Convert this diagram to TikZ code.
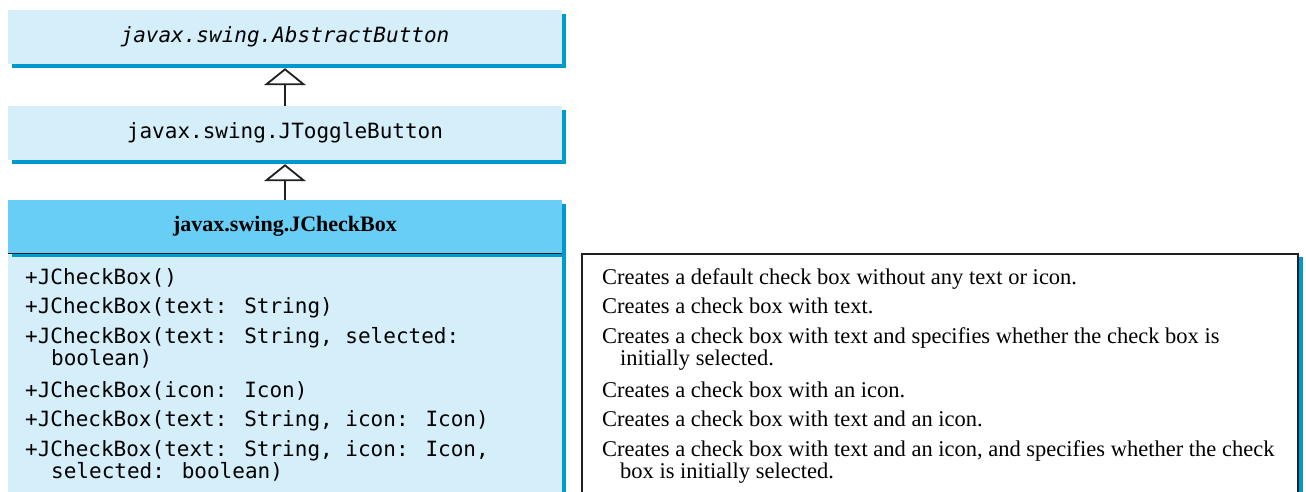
\documentclass[tikz,border=0pt]{standalone}
\usepackage{fontspec}
\setmainfont{Liberation Serif}
\newfontfamily\codefont{DejaVu Sans Mono}
\usetikzlibrary{arrows.meta,shadows}
\definecolor{boxfill}{RGB}{212,238,250}
\definecolor{headfill}{RGB}{104,206,245}
\definecolor{shadowcol}{RGB}{0,153,204}
\definecolor{rulecol}{RGB}{35,31,32}

\begin{document}
\begin{tikzpicture}[x=1pt, y=-1pt,
  classbox/.style={fill=boxfill, minimum width=554pt, minimum height=54pt,
                   inner sep=0pt, font=\codefont\fontsize{21}{25}\selectfont,
                   drop shadow={shadow xshift=4pt, shadow yshift=-4pt,
                                fill=shadowcol, opacity=1}},
  headbox/.style={classbox, fill=headfill, minimum height=53pt,
                  font=\bfseries\fontsize{22}{26}\selectfont},
  bodybox/.style={classbox, minimum height=242pt, anchor=north},
  inherit/.style={draw=rulecol, line width=1.8pt,
                  -{Triangle[open, length=17pt, width=42pt]}},
  meth/.style={anchor=base west, inner sep=0pt,
               font=\codefont\fontsize{21}{25}\selectfont},
  desc/.style={anchor=base west, inner sep=0pt,
               font=\fontsize{22.5}{26}\selectfont},
]
\useasboundingbox (0,0) rectangle (1306,491);

% ---- Class boxes ----
\node[classbox] (abstract) at (285,37)  {\itshape javax.swing.AbstractButton};
\node[classbox] (toggle)   at (285,133) {javax.swing.JToggleButton};
\node[bodybox]  (cbbody)   at (285,253) {};
\node[headbox]  (checkbox) at (285,226.5) {javax.swing.JCheckBox};
\draw[rulecol, line width=1.3pt] (checkbox.south west) -- (checkbox.south east);

% ---- Inheritance arrows ----
\draw[inherit] (toggle.north) -- ([yshift=-4pt]abstract.south);
\draw[inherit] (checkbox.north) -- ([yshift=-4pt]toggle.south);

% ---- Description box ----
\fill[shadowcol] (1298,257) rectangle (1303,495);
\draw[rulecol, line width=1.2pt, fill=white] (582,254) rectangle (1298,495);

% ---- Constructors ----
\node[meth] (m1)  at (25,284) {+JCheckBox()};
\node[meth] (m2)  at (25,313) {+JCheckBox(text: String)};
\node[meth] (m3)  at (25,343) {+JCheckBox(text: String, selected:};
\node[meth] (m3b) at (51,365) {boolean)};
\node[meth] (m4)  at (25,397) {+JCheckBox(icon: Icon)};
\node[meth] (m5)  at (25,426) {+JCheckBox(text: String, icon: Icon)};
\node[meth] (m6)  at (25,456) {+JCheckBox(text: String, icon: Icon,};
\node[meth] (m6b) at (51,478) {selected: boolean)};

% ---- Descriptions ----
\node[desc] (d1)  at (602,284) {Creates a default check box without any text or icon.};
\node[desc] (d2)  at (602,313) {Creates a check box with text.};
\node[desc] (d3)  at (602,343) {Creates a check box with text and specifies whether the check box is};
\node[desc] (d3b) at (620,365) {initially selected.};
\node[desc] (d4)  at (602,397) {Creates a check box with an icon.};
\node[desc] (d5)  at (602,426) {Creates a check box with text and an icon.};
\node[desc] (d6)  at (602,456) {Creates a check box with text and an icon, and specifies whether the check};
\node[desc] (d6b) at (620,478) {box is initially selected.};
\end{tikzpicture}
\end{document}
